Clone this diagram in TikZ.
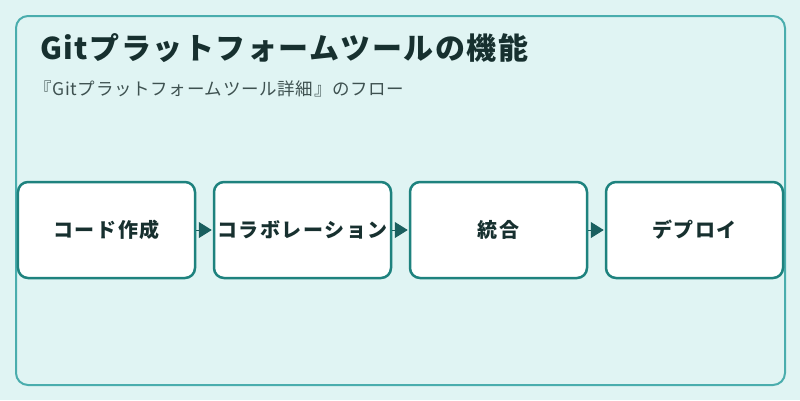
\documentclass[tikz,border=0pt]{standalone}
\usepackage{fontspec}
\setmainfont{Noto Sans CJK JP}
\usetikzlibrary{arrows.meta}
\definecolor{bg}{HTML}{E0F4F3}
\definecolor{frame}{HTML}{4AADAD}
\definecolor{boxline}{HTML}{1E827E}
\definecolor{arrowc}{HTML}{1A5F5F}
\definecolor{titlec}{HTML}{17302F}
\definecolor{subc}{HTML}{3E5150}
\tikzset{
  stepbox/.style={draw=boxline, line width=2.5bp, fill=white, rounded corners=10bp,
    minimum width=177bp, minimum height=96bp, inner sep=0pt,
    font=\fontsize{20bp}{24bp}\selectfont\bfseries\addfontfeatures{LetterSpace=8}, text=titlec},
  flowarrow/.style={draw=arrowc, line width=1bp, shorten >=1bp,
    -{Triangle[length=13bp,width=16bp]}, arrowc}
}
\begin{document}
\begin{tikzpicture}[x=1bp,y=-1bp]
\useasboundingbox (0,0) rectangle (800,400);
\fill[bg] (0,0) rectangle (800,400);
\draw[frame, line width=2bp, rounded corners=12bp] (16,16) rectangle (785,385);
\node[anchor=base west, inner sep=0pt, font=\fontsize{30bp}{36bp}\selectfont\bfseries\addfontfeatures{LetterSpace=5}, text=titlec] (title) at (40,59) {Gitプラットフォームツールの機能};
\node[anchor=base west, inner sep=0pt, font=\fontsize{17.5bp}{21bp}\selectfont\addfontfeatures{LetterSpace=4}, text=subc] (sub) at (34,95) {『Gitプラットフォームツール詳細』のフロー};
\node[stepbox] (b1) at (106.5,230) {コード作成};
\node[stepbox] (b2) at (302.5,230) {コラボレーション};
\node[stepbox] (b3) at (498.5,230) {統合};
\node[stepbox] (b4) at (694.5,230) {デプロイ};
\draw[flowarrow] (b1) -- (b2);
\draw[flowarrow] (b2) -- (b3);
\draw[flowarrow] (b3) -- (b4);
\end{tikzpicture}
\end{document}
